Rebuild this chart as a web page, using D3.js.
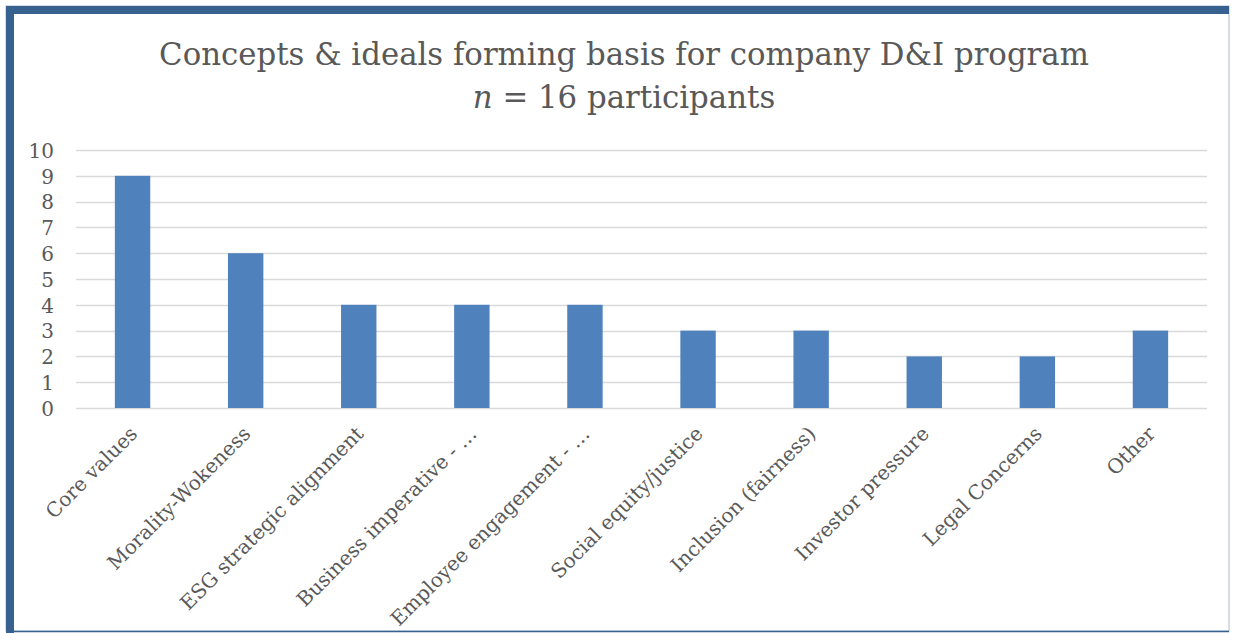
<!DOCTYPE html>
<html>
<head>
<meta charset="utf-8">
<script src="https://cdn.jsdelivr.net/npm/d3@7"></script>
<style>
  html, body { margin: 0; padding: 0; background: #ffffff; }
  svg { display: block; }
  text { font-family: "DejaVu Serif", "Liberation Serif", serif; fill: #595959; }
</style>
</head>
<body>
<svg id="chart" width="1233" height="633"></svg>
<script>
// Survey responses: concepts cited as the basis for a company D&I program
const categories = [
  "Core values",
  "Morality-Wokeness",
  "ESG strategic alignment",
  "Business imperative - …",
  "Employee engagement - …",
  "Social equity/justice",
  "Inclusion (fairness)",
  "Investor pressure",
  "Legal Concerns",
  "Other"
];
const counts = [9, 6, 4, 4, 4, 3, 3, 2, 2, 3];
const yTicks = [0, 1, 2, 3, 4, 5, 6, 7, 8, 9, 10];
const titleLine1 = "Concepts & ideals forming basis for company D&I program";
const titleN = "n";
const titleRest = " = 16 participants";

const W = 1233, H = 633;
const svg = d3.select("#chart");
const FONT = "'DejaVu Serif', serif";

// Frame: thick blue band on top and left, thin edges on right and bottom
svg.append("rect").attr("x", 0).attr("y", 0).attr("width", W).attr("height", H).attr("fill", "#ffffff");
svg.append("rect").attr("x", 6).attr("y", 6).attr("width", 1223).attr("height", 625)
  .attr("fill", "#ffffff").attr("stroke", "#a9bcd3").attr("stroke-width", 1);
svg.append("rect").attr("x", 6).attr("y", 6).attr("width", 1223).attr("height", 8).attr("fill", "#37618f");
svg.append("rect").attr("x", 6).attr("y", 6).attr("width", 8).attr("height", 627).attr("fill", "#37618f");
svg.append("line").attr("x1", 6).attr("x2", 1229).attr("y1", 631.5).attr("y2", 631.5)
  .attr("stroke", "#37618f").attr("stroke-width", 1.5);

const plot = { left: 76, right: 1207, top: 150, bottom: 408 };

const x = d3.scaleBand().domain(categories).range([plot.left, plot.right])
  .paddingInner(0.687).paddingOuter(0.3435);
const y = d3.scaleLinear().domain([0, 10]).range([plot.bottom, plot.top]);

// Horizontal gridlines
svg.append("g").selectAll("line").data(yTicks).join("line")
  .attr("x1", plot.left).attr("x2", plot.right)
  .attr("y1", d => Math.round(y(d)) + 0.5).attr("y2", d => Math.round(y(d)) + 0.5)
  .attr("stroke", "#d9d9d9").attr("stroke-width", 1.5);

// Y axis labels
const yAxis = d3.axisLeft(y).tickValues(yTicks).tickSize(0).tickPadding(0);
const gy = svg.append("g").attr("transform", `translate(${plot.left - 22},0)`).call(yAxis);
gy.select(".domain").remove();
gy.selectAll("text").attr("font-size", 20).attr("dy", "0.36em")
  .style("font-family", FONT).attr("fill", "#595959");

// Bars
svg.append("g").selectAll("rect").data(counts).join("rect")
  .attr("x", (d, i) => x(categories[i]))
  .attr("y", d => y(d))
  .attr("width", x.bandwidth())
  .attr("height", d => y(0) - y(d))
  .attr("fill", "#4f81bd");

// Category labels, rotated 45°
const xAxis = d3.axisBottom(x).tickSize(0).tickPadding(0);
const gx = svg.append("g").attr("transform", `translate(0,${plot.bottom})`).call(xAxis);
gx.select(".domain").remove();
gx.selectAll("text")
  .attr("font-size", 20)
  .attr("text-anchor", "end")
  .attr("transform", "translate(6,27) rotate(-45)")
  .attr("dy", 0)
  .attr("y", 0)
  .style("font-family", FONT).attr("fill", "#595959");

// Title
const title = svg.append("text").attr("x", 624).attr("y", 65)
  .attr("text-anchor", "middle").attr("font-size", 30.8).text(titleLine1);
const sub = svg.append("text").attr("x", 624).attr("y", 108)
  .attr("text-anchor", "middle").attr("font-size", 30.8);
sub.append("tspan").attr("font-style", "italic").text(titleN);
sub.append("tspan").text(titleRest);
</script>
</body>
</html>
